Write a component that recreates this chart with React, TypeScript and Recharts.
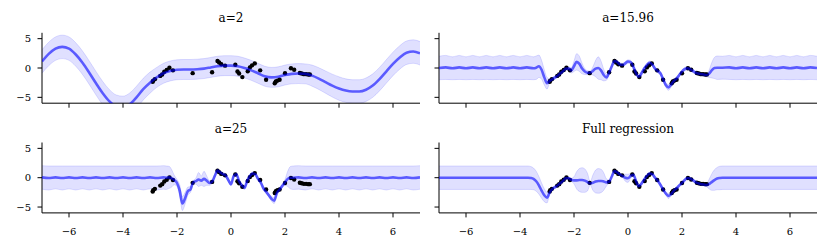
import React from "react";
import { ComposedChart, Area, Line, Scatter, XAxis, YAxis } from "recharts";

// observed training points (same in every panel)
const obsX = [
    -2.9, -2.88, -2.82, -2.62, -2.55, -2.47, -2.38, -2.28, -2.15, -1.42,
    -0.7, -0.5, -0.44, -0.36, -0.22, 0.16, 0.24, 0.3, 0.42, 0.62,
    0.7, 0.78, 0.88, 1.08, 1.3, 1.62, 1.66, 1.72, 1.8, 2.0,
    2.22, 2.34, 2.55, 2.62, 2.7, 2.78, 2.86, 2.92,
];
const obsY = [
    -2.35, -2.15, -1.9, -1.35, -1.1, -0.65, -0.35, 0.05, -0.4, -0.88,
    -0.72, 1.2, 0.95, 0.65, 0.4, 0.55, -0.6, -0.95, -1.55, -0.55,
    0.1, 0.45, 0.78, -0.4, -2.0, -2.6, -2.3, -2.15, -2.0, -0.9,
    -0.05, -0.3, -0.85, -0.95, -1.05, -1.05, -1.1, -1.1,
];

// panel a=2
const xsA = [
    -7, -6.75, -6.5, -6.25, -6, -5.75, -5.5, -5.25, -5, -4.75, -4.5, -4.25, -4, -3.75, -3.5,
    -3.25, -3, -2.75, -2.5, -2.25, -2, -1.75, -1.5, -1.25, -1, -0.75, -0.5, -0.25, 0,
    0.25, 0.5, 0.75, 1, 1.25, 1.5, 1.75, 2, 2.25, 2.5, 2.75, 3, 3.25, 3.5,
    3.75, 4, 4.25, 4.5, 4.75, 5, 5.25, 5.5, 5.75, 6, 6.25, 6.5, 6.75, 7,
];
const meanA = [
    1.1, 2.4, 3.3, 3.6, 3.3, 2.3, 0.9, -0.8, -2.6, -4.3, -5.7, -6.6, -6.8, -6.2, -5.0,
    -3.6, -2.5, -1.6, -0.9, -0.5, -0.3, -0.25, -0.25, -0.2, -0.1, 0.1, 0.3, 0.4, 0.4,
    0.3, 0.0, -0.4, -0.9, -1.4, -1.6, -1.5, -1.2, -1.0, -0.95, -1.0, -1.3, -1.8, -2.4,
    -3.0, -3.5, -3.85, -4.0, -4.0, -3.7, -3.0, -1.9, -0.6, 0.7, 1.8, 2.6, 2.8, 2.5,
];
const halfA = [
    2, 2, 2, 2, 2, 2, 2, 2, 2, 2, 2, 2, 2, 1.95, 1.9,
    1.85, 1.8, 1.7, 1.7, 1.7, 1.7, 1.7, 1.7, 1.7, 1.7, 1.7, 1.7, 1.7, 1.7,
    1.7, 1.7, 1.7, 1.7, 1.7, 1.7, 1.7, 1.7, 1.7, 1.7, 1.7, 1.8, 1.85, 1.9,
    1.95, 2, 2, 2, 2, 2, 2, 2, 2, 2, 2, 2, 2, 2,
];

// panel a=15.96
const xsB = [
    -7, -6.75, -6.5, -6.25, -6, -5.75, -5.5, -5.25, -5, -4.75, -4.5, -4.25, -4, -3.75, -3.5,
    -3.4, -3.3, -3.2, -3.1, -3.0, -2.9, -2.8, -2.7, -2.6, -2.5, -2.4, -2.3, -2.2, -2.1,
    -2.0, -1.9, -1.8, -1.7, -1.6, -1.5, -1.4, -1.3, -1.2, -1.1, -1.0, -0.9, -0.8, -0.7,
    -0.6, -0.5, -0.4, -0.3, -0.2, -0.1, 0, 0.1, 0.2, 0.3, 0.4, 0.5, 0.6, 0.7,
    0.8, 0.9, 1.0, 1.1, 1.2, 1.3, 1.4, 1.5, 1.6, 1.7, 1.8, 1.9, 2.0, 2.1,
    2.2, 2.3, 2.4, 2.5, 2.6, 2.7, 2.8, 2.9, 3.0, 3.1, 3.2, 3.3,
    3.5, 3.75, 4, 4.25, 4.5, 4.75, 5, 5.25, 5.5, 5.75, 6, 6.25, 6.5, 6.75, 7,
];
const meanB = [
    0, 0.1, -0.05, 0.1, -0.05, 0.1, -0.05, 0.1, -0.05, 0.1, -0.05, 0.1, -0.05, 0.1, -0.05,
    0.05, 0.3, -0.3, -1.6, -2.6, -2.2, -1.9, -1.6, -1.3, -0.9, -0.5, -0.1, -0.1, -0.4,
    0.3, 1.05, 0.7, -0.1, -0.6, -0.8, -0.8, -0.5, -0.1, 0.0, -0.4, -1.2, -1.6, -0.8,
    0.3, 1.2, 1.0, 0.6, 0.5, 0.8, 1.1, 1.0, 0.2, -0.9, -1.5, -0.9, -0.1, 0.5,
    0.9, 0.6, -0.1, -0.5, -0.9, -1.9, -2.9, -3.3, -2.8, -2.2, -1.8, -1.2, -0.6, -0.2,
    -0.05, -0.2, -0.5, -0.8, -0.95, -1.05, -1.1, -1.2, -1.0, -0.4, 0.0, 0.05,
    0.05, 0.1, -0.05, 0.1, -0.05, 0.1, -0.05, 0.1, -0.05, 0.1, -0.05, 0.1, -0.05, 0.1, 0,
];
const halfB = [
    2, 2.05, 1.95, 2.05, 1.95, 2.05, 1.95, 2.05, 1.95, 2.05, 1.95, 2.05, 1.95, 2.05, 1.95,
    2.0, 1.9, 1.6, 1.3, 1.0, 0.35, 0.3, 0.3, 0.3, 0.3, 0.3, 0.3, 0.3, 0.45,
    0.9, 1.4, 1.3, 0.9, 0.5, 0.35, 0.3, 0.7, 1.4, 1.9, 1.6, 1.0, 0.5, 0.3,
    0.3, 0.3, 0.3, 0.3, 0.3, 0.3, 0.3, 0.3, 0.3, 0.3, 0.3, 0.3, 0.3, 0.3,
    0.3, 0.3, 0.3, 0.3, 0.3, 0.3, 0.4, 0.5, 0.4, 0.3, 0.3, 0.3, 0.3, 0.3,
    0.3, 0.3, 0.3, 0.3, 0.3, 0.3, 0.3, 0.3, 0.6, 1.3, 1.8, 2.0,
    1.95, 2.05, 1.95, 2.05, 1.95, 2.05, 1.95, 2.05, 1.95, 2.05, 1.95, 2.05, 1.95, 2.05, 2,
];

// panel a=25
const xsC = [
    -7, -6.75, -6.5, -6.25, -6, -5.75, -5.5, -5.25, -5, -4.75, -4.5, -4.25, -4, -3.75, -3.5,
    -3.25, -3, -2.75, -2.5,
    -2.4, -2.3, -2.2, -2.1, -2.0, -1.9, -1.8, -1.7, -1.6, -1.5, -1.4, -1.3, -1.2, -1.1,
    -1.0, -0.9, -0.8, -0.7, -0.6, -0.5, -0.4, -0.3, -0.2, -0.1, 0, 0.1, 0.2, 0.3,
    0.4, 0.5, 0.6, 0.7, 0.8, 0.9, 1.0, 1.1, 1.2, 1.3, 1.4, 1.5, 1.6, 1.7, 1.8, 1.9,
    2.0, 2.1, 2.2, 2.3,
    2.5, 2.75, 3, 3.25, 3.5, 3.75, 4, 4.25, 4.5, 4.75, 5, 5.25, 5.5, 5.75, 6, 6.25, 6.5, 6.75, 7,
];
const meanC = [
    0.05, -0.05, 0.05, -0.05, 0.05, -0.05, 0.05, -0.05, 0.05, -0.05, 0.05, -0.05, 0.05, -0.05, 0.05,
    -0.05, 0.05, -0.05, 0.05,
    0, 0.05, -0.1, -0.4, -0.9, -2.2, -4.4, -3.5, -2.3, -2.0, -0.8, -0.6, -0.3, -0.5,
    -0.2, -0.5, -0.9, -0.7, 0.3, 1.2, 0.9, 0.6, 0.4, -0.4, -1.1, 0.3, 0.6, -0.6,
    -1.3, -1.7, -0.5, 0.3, 0.7, 0.6, -0.2, -0.8, -1.8, -2.4, -3.0, -3.6, -3.9, -2.6, -2.0, -1.4,
    -0.8, -0.2, 0, 0,
    0.05, -0.05, 0.05, -0.05, 0.05, -0.05, 0.05, -0.05, 0.05, -0.05, 0.05, -0.05, 0.05, -0.05, 0.05, -0.05, 0.05, -0.05, 0.05,
];
const halfC = [
    2, 2.05, 1.95, 2.05, 1.95, 2.05, 1.95, 2.05, 1.95, 2.05, 1.95, 2.05, 1.95, 2.05, 1.95,
    2.05, 1.95, 2.05, 2,
    2.0, 1.9, 1.5, 0.8, 0.6, 1.0, 1.2, 1.0, 0.7, 0.5, 0.3, 0.5, 1.2, 0.8,
    1.3, 0.8, 0.4, 0.3, 0.3, 0.3, 0.3, 0.3, 0.3, 0.3, 0.3, 0.3, 0.3, 0.3,
    0.3, 0.3, 0.3, 0.3, 0.3, 0.3, 0.3, 0.3, 0.3, 0.3, 0.3, 0.4, 0.5, 0.35, 0.3, 0.3,
    0.5, 1.3, 1.9, 2.0,
    2, 2.05, 1.95, 2.05, 1.95, 2.05, 1.95, 2.05, 1.95, 2.05, 1.95, 2.05, 1.95, 2.05, 1.95, 2.05, 1.95, 2.05, 2,
];

// panel full regression
const xsD = [
    -7, -6.5, -6, -5.5, -5, -4.5, -4,
    -3.8, -3.7, -3.6, -3.5, -3.4, -3.3, -3.2, -3.1, -3.0, -2.9, -2.8, -2.7, -2.6, -2.5,
    -2.4, -2.3, -2.2, -2.1, -2.0, -1.9, -1.8, -1.7, -1.6, -1.5, -1.4, -1.3, -1.2, -1.1,
    -1.0, -0.9, -0.8, -0.7, -0.6, -0.5, -0.4, -0.3, -0.2, -0.1, 0, 0.1, 0.2, 0.3,
    0.4, 0.5, 0.6, 0.7, 0.8, 0.9, 1.0, 1.1, 1.2, 1.3, 1.4, 1.5, 1.6, 1.7, 1.8, 1.9,
    2.0, 2.1, 2.2, 2.3, 2.4, 2.5, 2.6, 2.7, 2.8, 2.9, 3.0, 3.1, 3.2, 3.3, 3.4, 3.5, 3.6,
    4, 4.5, 5, 5.5, 6, 6.5, 7,
];
const meanD = [
    0, 0, 0, 0, 0, 0, 0,
    0, 0, -0.05, -0.2, -0.6, -1.3, -2.2, -3.0, -3.4, -2.5, -1.9, -1.6, -1.3, -0.9,
    -0.5, -0.05, -0.1, -0.35, -0.45, -0.45, -0.4, -0.4, -0.5, -0.75, -0.95, -0.85, -0.65, -0.55,
    -0.55, -0.65, -0.8, -0.7, 0.2, 1.15, 0.9, 0.55, 0.3, 0.0, -0.1, 0.3, 0.5, -0.6,
    -1.45, -1.0, -0.3, 0.3, 0.7, 0.6, 0.0, -0.5, -1.2, -2.0, -2.7, -3.1, -2.8, -2.2, -1.8, -1.3,
    -0.9, -0.4, -0.05, -0.15, -0.4, -0.75, -0.95, -1.1, -1.15, -1.25, -1.1, -0.75, -0.4, -0.15, -0.05, 0, 0,
    0, 0, 0, 0, 0, 0, 0,
];
const halfD = [
    2, 2, 2, 2, 2, 2, 2,
    2.0, 2.0, 1.95, 1.85, 1.7, 1.5, 1.3, 1.1, 0.9, 0.3, 0.25, 0.25, 0.25, 0.25,
    0.25, 0.25, 0.25, 0.25, 0.6, 1.5, 1.95, 2.1, 2.0, 1.5, 0.3, 1.3, 1.95, 2.1,
    2.0, 1.5, 0.6, 0.25, 0.25, 0.25, 0.25, 0.25, 0.25, 0.6, 0.7, 0.4, 0.25, 0.25,
    0.25, 0.25, 0.25, 0.25, 0.25, 0.25, 0.25, 0.25, 0.25, 0.25, 0.25, 0.45, 0.25, 0.25, 0.25, 0.25,
    0.25, 0.25, 0.25, 0.25, 0.25, 0.25, 0.25, 0.25, 0.25, 0.25, 0.8, 1.4, 1.75, 1.9, 2.0, 2.0, 2.0,
    2, 2, 2, 2, 2, 2, 2,
];

const xTicks = [-6, -4, -2, 0, 2, 4, 6];
const yTicks = [-5, 0, 5];

const FONT = "'DejaVu Serif', serif";
const points = obsX.map((x, i) => ({ x, y: obsY[i] }));

const buildRows = (xs: number[], mean: number[], half: number[]) =>
    xs.map((x, i) => ({ x, mean: mean[i], band: [mean[i] - half[i], mean[i] + half[i]] }));

const fmt = (v: number) => String(v).replace("-", "\u2212");

type PanelProps = {
    title: string;
    rows: any[];
    left: number;
    top: number;
    bottomRow: boolean;
    leftCol: boolean;
};

const Panel = ({ title, rows, left, top, bottomRow, leftCol }: PanelProps) => {
    const width = leftCol ? 425 : 405;
    const height = bottomRow ? 139 : 112;
    const yw = leftCol ? 30 : 10;
    const xh = bottomRow ? 30 : 8;
    const margin = {
        top: bottomRow ? 32.5 : 32.8,
        bottom: bottomRow ? 6.1 : 0.8,
        left: leftCol ? 12 : 4,
        right: leftCol ? 5 : 13,
    };
    const plotLeft = margin.left + yw;
    const plotRight = width - margin.right;
    // the mean line sits in its own chart on top, so it tints the points under it
    const lineMargin = { top: margin.top, bottom: margin.bottom + xh, left: plotLeft, right: margin.right };
    return (
        <div style={{ position: "absolute", left, top, width, height }}>
            <div
                style={{
                    position: "absolute",
                    left: plotLeft,
                    width: plotRight - plotLeft,
                    top: bottomRow ? 12 : 11,
                    textAlign: "center",
                    fontFamily: FONT,
                    fontSize: 12,
                    lineHeight: "14px",
                    color: "#000",
                }}
            >
                {title}
            </div>
            <div style={{ position: "absolute", left: 0, top: 0 }}>
                <ComposedChart width={width} height={height} data={rows} margin={margin}>
                    <XAxis
                        dataKey="x"
                        type="number"
                        domain={[-7, 7]}
                        ticks={xTicks}
                        allowDataOverflow
                        height={xh}
                        tickSize={4.5}
                        tickMargin={10}
                        interval={0}
                        stroke="#000"
                        tickFormatter={bottomRow ? fmt : () => ""}
                        tick={{ fill: "#000", fontSize: 10, fontFamily: FONT }}
                    />
                    <YAxis
                        type="number"
                        domain={[-6, 6]}
                        ticks={yTicks}
                        allowDataOverflow
                        width={yw}
                        tickSize={4.5}
                        tickMargin={6.5}
                        interval={0}
                        stroke="#000"
                        tickFormatter={leftCol ? fmt : () => ""}
                        tick={{ fill: "#000", fontSize: 10, fontFamily: FONT }}
                    />
                    <Area
                        dataKey="band"
                        type="monotone"
                        fill="#0000ff"
                        fillOpacity={0.12}
                        stroke="#0000ff"
                        strokeOpacity={0.12}
                        strokeWidth={1}
                        isAnimationActive={false}
                        activeDot={false}
                    />
                    <Scatter
                        data={points}
                        dataKey="y"
                        fill="#000"
                        isAnimationActive={false}
                        shape={(p: any) => <circle cx={p.cx} cy={p.cy} r={2.2} fill="#000" />}
                    />
                </ComposedChart>
            </div>
            <div style={{ position: "absolute", left: 0, top: 0, pointerEvents: "none" }}>
                <ComposedChart width={width} height={height} data={rows} margin={lineMargin}>
                    <XAxis dataKey="x" type="number" domain={[-7, 7]} allowDataOverflow hide />
                    <YAxis type="number" domain={[-6, 6]} allowDataOverflow hide />
                    <Line
                        dataKey="mean"
                        type="monotone"
                        stroke="#0000ff"
                        strokeOpacity={0.6}
                        strokeWidth={2.6}
                        dot={false}
                        activeDot={false}
                        isAnimationActive={false}
                    />
                </ComposedChart>
            </div>
        </div>
    );
};

export default function App() {
    return (
        <div style={{ position: "absolute", left: 0, top: 0, width: 830, height: 249, background: "#fff" }}>
            <Panel title="a=2" rows={buildRows(xsA, meanA, halfA)} left={0} top={0} bottomRow={false} leftCol />
            <Panel title="a=15.96" rows={buildRows(xsB, meanB, halfB)} left={425} top={0} bottomRow={false} leftCol={false} />
            <Panel title="a=25" rows={buildRows(xsC, meanC, halfC)} left={0} top={110} bottomRow leftCol />
            <Panel title="Full regression" rows={buildRows(xsD, meanD, halfD)} left={425} top={110} bottomRow leftCol={false} />
        </div>
    );
}
